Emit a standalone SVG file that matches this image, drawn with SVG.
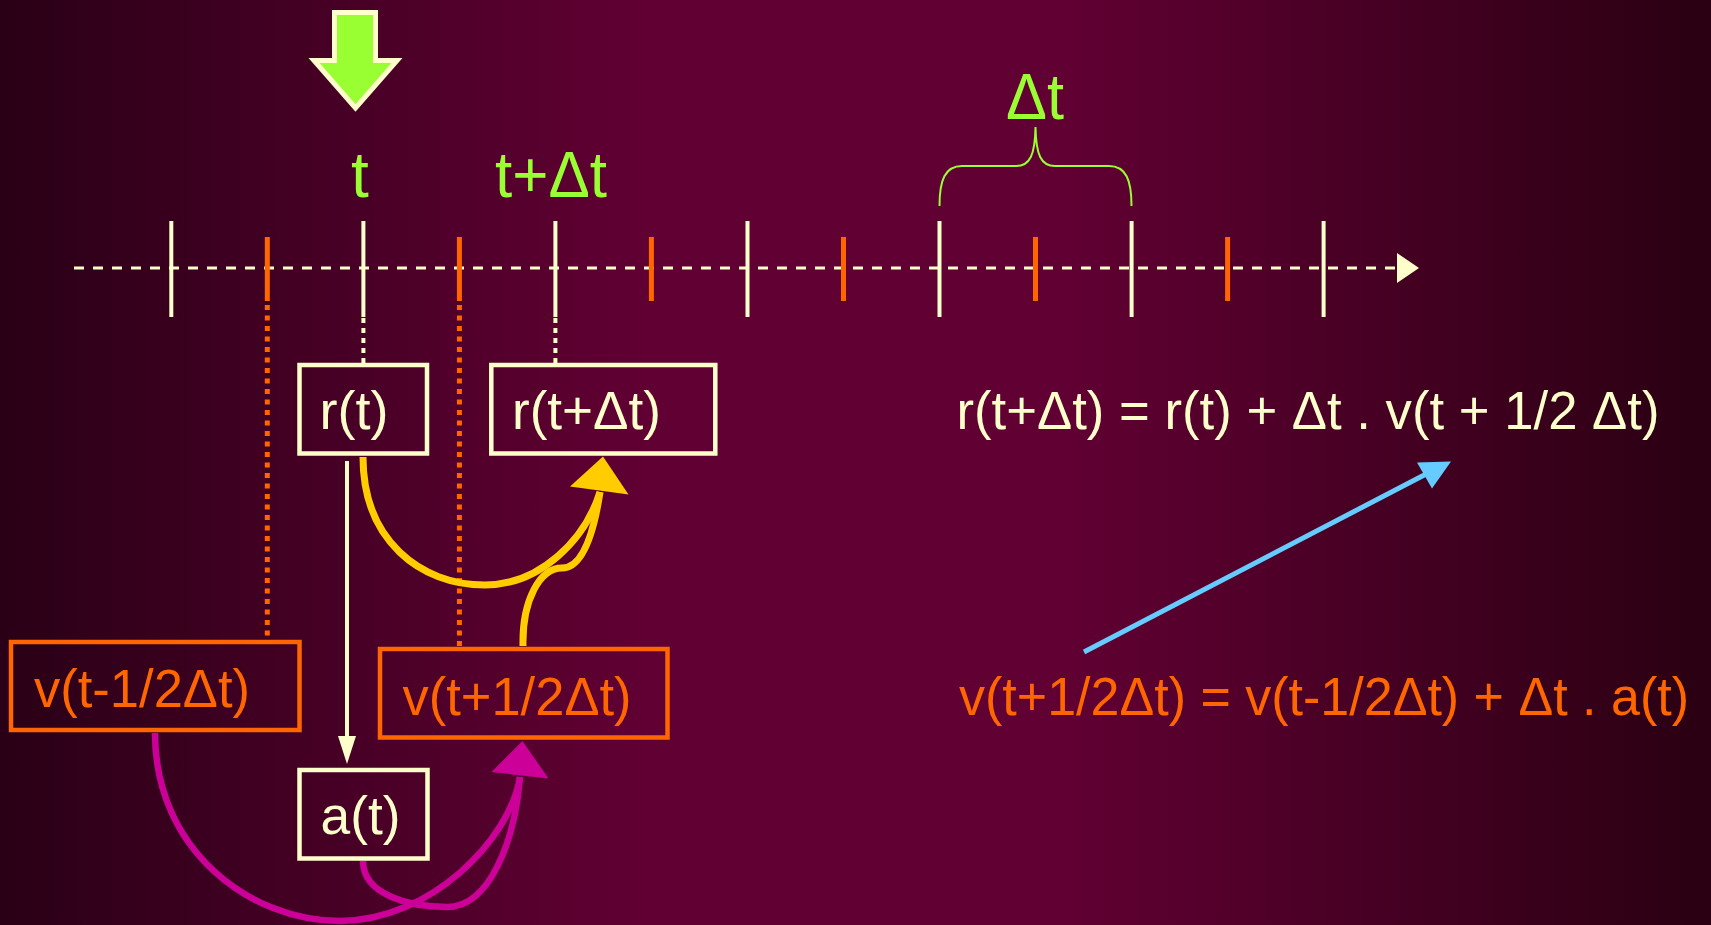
<svg xmlns="http://www.w3.org/2000/svg" width="1711" height="925" viewBox="0 0 1711 925">
<defs>
<linearGradient id="bg" x1="0" y1="0" x2="1" y2="0">
<stop offset="0" stop-color="#2a0016"/>
<stop offset="0.38" stop-color="#610033"/>
<stop offset="0.62" stop-color="#610033"/>
<stop offset="1" stop-color="#2a0012"/>
</linearGradient>
<style>
.txt{font-family:"Liberation Sans",Arial,sans-serif;}
.big{font-size:54px;}
.eq2{font-size:53px;}
.lbl{font-size:64px;fill:#99ff33;}
.cream{fill:#ffffcc;}
.orange{fill:#ff6600;}
.boxW{fill:none;stroke:#ffffcc;stroke-width:4.5;}
.boxO{fill:none;stroke:#ff6600;stroke-width:4.5;}
.tickW{stroke:#ffffcc;stroke-width:4;}
.tickO{stroke:#ff6600;stroke-width:5;}
.dotW{stroke:#ffffcc;stroke-width:4;stroke-dasharray:5 5;}
.dotO{stroke:#ff6600;stroke-width:5;stroke-dasharray:5 5.5;}
.yel{fill:none;stroke:#ffcc00;stroke-width:7;}
.mag{fill:none;stroke:#cc0099;stroke-width:6.5;}
</style>
</defs>
<rect x="0" y="0" width="1711" height="925" fill="url(#bg)"/>

<g id="time-axis">
<line x1="74" y1="268" x2="1400" y2="268" stroke="#ffffcc" stroke-width="3" stroke-dasharray="10 9"/>
<polygon points="1397,253 1419,268 1397,283" fill="#ffffcc"/>
<line class="tickW" x1="171.3" y1="221" x2="171.3" y2="317"/>
<line class="tickW" x1="363.4" y1="221" x2="363.4" y2="317"/>
<line class="tickW" x1="555.4" y1="221" x2="555.4" y2="317"/>
<line class="tickW" x1="747.5" y1="221" x2="747.5" y2="317"/>
<line class="tickW" x1="939.5" y1="221" x2="939.5" y2="317"/>
<line class="tickW" x1="1131.6" y1="221" x2="1131.6" y2="317"/>
<line class="tickW" x1="1323.6" y1="221" x2="1323.6" y2="317"/>
<line class="tickO" x1="267.3" y1="237" x2="267.3" y2="301"/>
<line class="tickO" x1="459.4" y1="237" x2="459.4" y2="301"/>
<line class="tickO" x1="651.4" y1="237" x2="651.4" y2="301"/>
<line class="tickO" x1="843.5" y1="237" x2="843.5" y2="301"/>
<line class="tickO" x1="1035.5" y1="237" x2="1035.5" y2="301"/>
<line class="tickO" x1="1227.6" y1="237" x2="1227.6" y2="301"/>
</g>

<g id="current-time-arrow">
<polygon points="334.5,12.5 375.5,12.5 375.5,60.5 397,60.5 355.5,108 314,60.5 334.5,60.5" fill="#99ff33" stroke="#ffffcc" stroke-width="5"/>
</g>

<g id="labels">
<text class="txt lbl" x="360" y="197" text-anchor="middle">t</text>
<text class="txt lbl" x="551" y="197" text-anchor="middle" textLength="112" lengthAdjust="spacingAndGlyphs">t+Δt</text>
<text class="txt lbl" x="1035" y="119" text-anchor="middle" textLength="58" lengthAdjust="spacingAndGlyphs">Δt</text>
<path d="M939.5,206 C939.5,180 945,166 962,166 L1016,166 C1030,166 1035,155 1035.5,127 C1036,155 1041,166 1055,166 L1109,166 C1126,166 1131.5,180 1131.5,206" fill="none" stroke="#99ff33" stroke-width="2"/>
</g>

<g id="node-r-t">
<rect class="boxW" x="299.5" y="365" width="127.5" height="88.5"/>
<text class="txt big cream" x="319.5" y="429" textLength="69" lengthAdjust="spacingAndGlyphs">r(t)</text>
</g>
<g id="node-r-t-dt">
<rect class="boxW" x="491.3" y="365" width="224" height="88.5"/>
<text class="txt big cream" x="512" y="429" textLength="149" lengthAdjust="spacingAndGlyphs">r(t+Δt)</text>
</g>
<g id="node-v-minus">
<rect class="boxO" x="11" y="642" width="288.5" height="88"/>
<text class="txt big orange" x="34" y="707" textLength="216" lengthAdjust="spacingAndGlyphs">v(t-1/2Δt)</text>
</g>
<g id="node-v-plus">
<rect class="boxO" x="380" y="649" width="287.5" height="88.5"/>
<text class="txt big orange" x="402.5" y="715" textLength="229" lengthAdjust="spacingAndGlyphs">v(t+1/2Δt)</text>
</g>
<g id="node-a-t">
<rect class="boxW" x="299.5" y="770" width="128" height="88.5"/>
<text class="txt big cream" x="320.5" y="834" textLength="80" lengthAdjust="spacingAndGlyphs">a(t)</text>
</g>

<g id="connectors">
<line class="dotW" x1="363.4" y1="318" x2="363.4" y2="363"/>
<line class="dotW" x1="555.4" y1="318" x2="555.4" y2="363"/>
<line class="dotO" x1="267.3" y1="305" x2="267.3" y2="640"/>
<line class="dotO" x1="459.4" y1="305" x2="459.4" y2="647"/>
<line x1="347" y1="461" x2="347" y2="740" stroke="#ffffcc" stroke-width="4"/>
<polygon points="338,736 356,736 347,764" fill="#ffffcc"/>
<path class="yel" d="M363,457 C363,540 420,585 485,585 C540,585 585,540 600,492"/>
<path class="yel" d="M523,646 C522,600 540,568 562,568 C585,568 595,525 600,492"/>
<polygon points="603,456.5 570,486.5 628.5,494.5" fill="#ffcc00"/>
<path class="mag" d="M155,733 C155,850 250,921 340,921 C430,921 510,840 520,777"/>
<path class="mag" d="M363,861 C363,895 410,907 447,907 C490,907 515,840 520,777"/>
<polygon points="522.5,741 491.5,772 548.5,778.5" fill="#cc0099"/>
<line x1="1084" y1="652" x2="1430" y2="472" stroke="#66ccff" stroke-width="5"/>
<polygon points="1451,461.5 1417,462.5 1432,488.5" fill="#66ccff"/>
</g>

<g id="equations">
<text class="txt big cream" x="956.5" y="429" textLength="703" lengthAdjust="spacingAndGlyphs">r(t+Δt) = r(t) + Δt . v(t + 1/2 Δt)</text>
<text class="txt eq2 orange" x="959" y="715" textLength="730" lengthAdjust="spacingAndGlyphs">v(t+1/2Δt) = v(t-1/2Δt) + Δt . a(t)</text>
</g>
</svg>
